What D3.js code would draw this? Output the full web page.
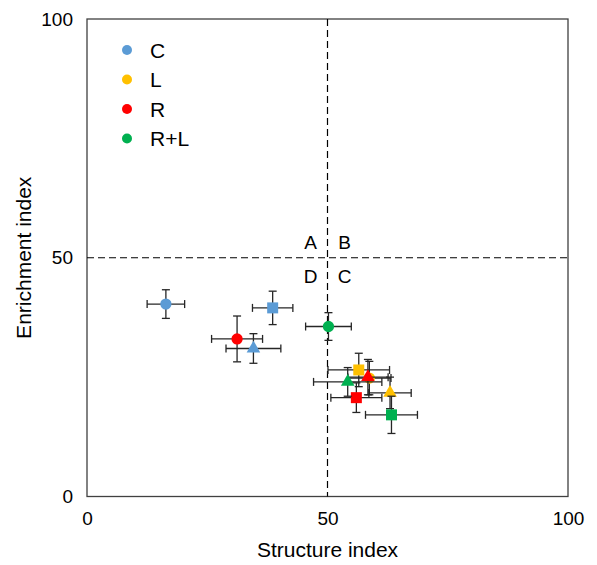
<!DOCTYPE html>
<html>
<head>
<meta charset="utf-8">
<script src="https://cdn.jsdelivr.net/npm/d3@7"></script>
<style>
  body { margin: 0; background: #fff; }
  text { font-family: "Liberation Sans", Arial, sans-serif; fill: #000; }
</style>
</head>
<body>
<svg width="597" height="565"></svg>
<script>
// groups and their colours
const groups = ["C", "L", "R", "R+L"];
const groupColors = ["#5B9BD5", "#FFC000", "#FF0000", "#00B050"];

// points: group, marker shape, structure index, enrichment index, errors
const pointGroup = ["C", "C", "C", "L", "L", "L", "R", "R", "R", "R+L", "R+L", "R+L"];
const pointShape = ["circle", "square", "triangle", "circle", "square", "triangle", "circle", "square", "triangle", "circle", "square", "triangle"];
const structureIdx = [16.4, 38.6, 34.6, 58.7, 56.5, 63.0, 31.2, 56.0, 58.4, 50.2, 63.3, 54.2];
const enrichmentIdx = [40.3, 39.5, 31.0, 24.8, 26.5, 21.7, 33.0, 20.7, 25.0, 35.6, 17.1, 24.0];
const structureErr = [3.9, 4.2, 5.7, 4.5, 6.4, 4.4, 5.3, 5.3, 4.2, 4.75, 5.4, 7.1];
const enrichmentErr = [3.0, 3.5, 3.1, 3.5, 3.5, 3.3, 4.8, 3.1, 3.7, 2.9, 3.9, 3.0];

const tickValues = [0, 50, 100];
const quadrantLabels = ["A", "B", "C", "D"];

const svg = d3.select("svg");
const margin = { left: 87, top: 19, right: 29, bottom: 68.5 };
const width = 597 - margin.left - margin.right;
const height = 565 - margin.top - margin.bottom;

const x = d3.scaleLinear().domain([0, 100]).range([0, width]);
const y = d3.scaleLinear().domain([0, 100]).range([height, 0]);
const color = d3.scaleOrdinal().domain(groups).range(groupColors);
const symbolType = { circle: d3.symbolCircle, square: d3.symbolSquare, triangle: d3.symbolTriangle };
const symbolSize = { circle: 100, square: 121, triangle: 80 };

const g = svg.append("g").attr("transform", `translate(${margin.left},${margin.top})`);

// axes (labels only, no ticks)
const xAxis = g.append("g")
    .attr("transform", `translate(0,${height})`)
    .call(d3.axisBottom(x).tickValues(tickValues).tickSize(0).tickPadding(15));
xAxis.select(".domain").remove();
xAxis.selectAll("text").style("font-size", "19px").attr("font-family", null);

const yAxis = g.append("g")
    .call(d3.axisLeft(y).tickValues(tickValues).tickSize(0).tickPadding(14));
yAxis.select(".domain").remove();
yAxis.selectAll("text").style("font-size", "19px").attr("font-family", null);

// frame
g.append("rect")
    .attr("width", width)
    .attr("height", height)
    .attr("fill", "none")
    .attr("stroke", "#404040")
    .attr("stroke-width", 1.3);

// quadrant dashed lines
g.append("line")
    .attr("x1", x(50)).attr("x2", x(50))
    .attr("y1", y(100)).attr("y2", y(0))
    .attr("stroke", "#000").attr("stroke-dasharray", "7,4").attr("stroke-width", 1.2);
g.append("line")
    .attr("x1", x(0)).attr("x2", x(100))
    .attr("y1", y(50)).attr("y2", y(50))
    .attr("stroke", "#000").attr("stroke-dasharray", "7,4").attr("stroke-width", 1.2);

// quadrant letters
const qPos = [[-1, 1], [1, 1], [1, -1], [-1, -1]];
g.selectAll(".quad")
    .data(quadrantLabels)
    .enter().append("text")
    .attr("class", "quad")
    .attr("x", (d, i) => x(50) + qPos[i][0] * 17)
    .attr("y", (d, i) => y(50) + (qPos[i][1] > 0 ? -9 : 25))
    .attr("text-anchor", "middle")
    .style("font-size", "19px")
    .text(d => d);

// points
const points = pointGroup.map((grp, i) => ({
    group: grp, shape: pointShape[i],
    x: structureIdx[i], y: enrichmentIdx[i],
    xe: structureErr[i], ye: enrichmentErr[i]
}));

const cap = 4;
const pt = g.selectAll(".pt")
    .data(points)
    .enter().append("g")
    .attr("class", "pt");

pt.each(function(d) {
    const s = d3.select(this);
    const stroke = "#262626";
    s.append("line")
        .attr("x1", x(d.x - d.xe)).attr("x2", x(d.x + d.xe))
        .attr("y1", y(d.y)).attr("y2", y(d.y))
        .attr("stroke", stroke).attr("stroke-width", 1.3);
    s.append("line")
        .attr("x1", x(d.x)).attr("x2", x(d.x))
        .attr("y1", y(d.y - d.ye)).attr("y2", y(d.y + d.ye))
        .attr("stroke", stroke).attr("stroke-width", 1.3);
    [d.x - d.xe, d.x + d.xe].forEach(v => {
        s.append("line")
            .attr("x1", x(v)).attr("x2", x(v))
            .attr("y1", y(d.y) - cap).attr("y2", y(d.y) + cap)
            .attr("stroke", stroke).attr("stroke-width", 1.3);
    });
    [d.y - d.ye, d.y + d.ye].forEach(v => {
        s.append("line")
            .attr("x1", x(d.x) - cap).attr("x2", x(d.x) + cap)
            .attr("y1", y(v)).attr("y2", y(v))
            .attr("stroke", stroke).attr("stroke-width", 1.3);
    });
    s.append("path")
        .attr("transform", `translate(${x(d.x)},${y(d.y)})`)
        .attr("d", d3.symbol().type(symbolType[d.shape]).size(symbolSize[d.shape])())
        .attr("fill", color(d.group));
});

// legend
const legend = g.selectAll(".legend")
    .data(groups)
    .enter().append("g")
    .attr("class", "legend")
    .attr("transform", (d, i) => `translate(40,${31 + i * 29.5})`);
legend.append("circle")
    .attr("r", 5)
    .attr("fill", d => color(d));
legend.append("text")
    .attr("x", 23)
    .attr("dy", "0.36em")
    .style("font-size", "21px")
    .text(d => d);

// axis titles
svg.append("text")
    .attr("x", margin.left + width / 2)
    .attr("y", 557)
    .attr("text-anchor", "middle")
    .style("font-size", "21px")
    .text("Structure index");
svg.append("text")
    .attr("transform", `translate(31,${margin.top + height / 2}) rotate(-90)`)
    .attr("text-anchor", "middle")
    .style("font-size", "21px")
    .text("Enrichment index");
</script>
</body>
</html>
